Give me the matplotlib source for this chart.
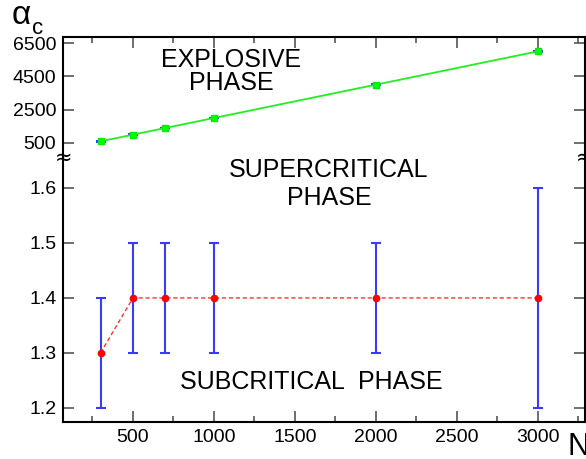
import matplotlib
matplotlib.use("Agg")
import matplotlib.pyplot as plt
from matplotlib.ticker import MultipleLocator, FixedLocator

plt.rcParams['font.family'] = ['Liberation Sans', 'DejaVu Sans']

# system sizes
N = [300, 500, 700, 1000, 2000, 3000]

# critical alpha (lower branch) with uncertainties
alpha_low = [1.3, 1.4, 1.4, 1.4, 1.4, 1.4]
alpha_low_err = [0.1, 0.1, 0.1, 0.1, 0.1, 0.2]

# explosive threshold (upper branch)
alpha_high = [600, 1000, 1400, 2000, 4000, 6000]
alpha_high_err = [25, 25, 25, 25, 25, 25]

top_ticks = [500, 2500, 4500, 6500]
low_ticks = [1.2, 1.3, 1.4, 1.5, 1.6]

fig = plt.figure(figsize=(5.86, 4.59), dpi=100)
left, width = 0.108, 0.890
ax_top = fig.add_axes([left, 0.6558, width, 0.2643])
ax_low = fig.add_axes([left, 0.0813, width, 0.5745])

err_color = '#3a3aff'
tick_color = '#555555'

# upper panel
ax_top.errorbar(N, alpha_high, yerr=alpha_high_err, fmt='none', ecolor=err_color,
                elinewidth=1.2, capsize=3.5, capthick=1.5, zorder=2)
ax_top.plot(N, alpha_high, color='#22ee22', lw=1.3, marker='s', ms=4.5,
            mfc='#00ff00', mec='#00ee00', zorder=3)
ax_top.set_ylim(-400, 6880)
ax_top.yaxis.set_major_locator(FixedLocator(top_ticks))

# lower panel
ax_low.errorbar(N, alpha_low, yerr=alpha_low_err, fmt='none', ecolor=err_color,
                elinewidth=1.5, capsize=3.8, capthick=1.5, zorder=2)
ax_low.plot(N, alpha_low, color='#ff3030', lw=1.0, ls=(0, (3, 2)), zorder=3)
ax_low.plot(N, alpha_low, ls='none', marker='o', ms=4.5, color='#ff0000', zorder=4)
ax_low.set_ylim(1.175, 1.6545)
ax_low.yaxis.set_major_locator(FixedLocator(low_ticks))
ax_low.yaxis.set_major_formatter(plt.FuncFormatter(lambda v, p: f'{v:.1f}'))

for ax in (ax_top, ax_low):
    ax.set_xlim(70, 3290)
    ax.xaxis.set_major_locator(MultipleLocator(500))
    ax.xaxis.set_minor_locator(MultipleLocator(250))
    ax.tick_params(which='both', direction='in', color=tick_color, width=1.2,
                   labelsize=14, pad=5, right=True)
    ax.tick_params(which='major', length=8)
    ax.tick_params(which='minor', length=4.5)
    for s in ax.spines.values():
        s.set_linewidth(1.5)

ax_top.spines['bottom'].set_visible(False)
ax_top.tick_params(axis='x', which='both', top=True, bottom=False, labelbottom=False)
ax_low.spines['top'].set_visible(False)
ax_low.tick_params(axis='x', which='both', top=False, bottom=True)
ax_low.set_xticks([500, 1000, 1500, 2000, 2500, 3000])

# region labels
ax_top.text(1105, 5510, 'EXPLOSIVE', ha='center', va='center', fontsize=18)
ax_top.text(1105, 4100, 'PHASE', ha='center', va='center', fontsize=18)
ax_low.text(1710, 1.632, 'SUPERCRITICAL', ha='center', va='center', fontsize=18)
ax_low.text(1710, 1.581, 'PHASE', ha='center', va='center', fontsize=18)
ax_low.text(1602, 1.248, 'SUBCRITICAL  PHASE', ha='center', va='center', fontsize=18)

# axis break marks
fig.text(63.5 / 586, 1 - 158 / 459, '≈', ha='center', va='center', fontsize=15,
         family='DejaVu Sans')
fig.text(585 / 586, 1 - 158 / 459, '≈', ha='center', va='center', fontsize=15,
         family='DejaVu Sans')

# axis titles
fig.text(21 / 586, 1 - 16 / 459, 'α', ha='center', va='center', fontsize=24)
fig.text(38 / 586, 1 - 28 / 459, 'c', ha='center', va='center', fontsize=16)
fig.text(567 / 586, 1 - 455 / 459, 'N', ha='left', va='baseline', fontsize=22)

fig.savefig('out.png', dpi=100)
